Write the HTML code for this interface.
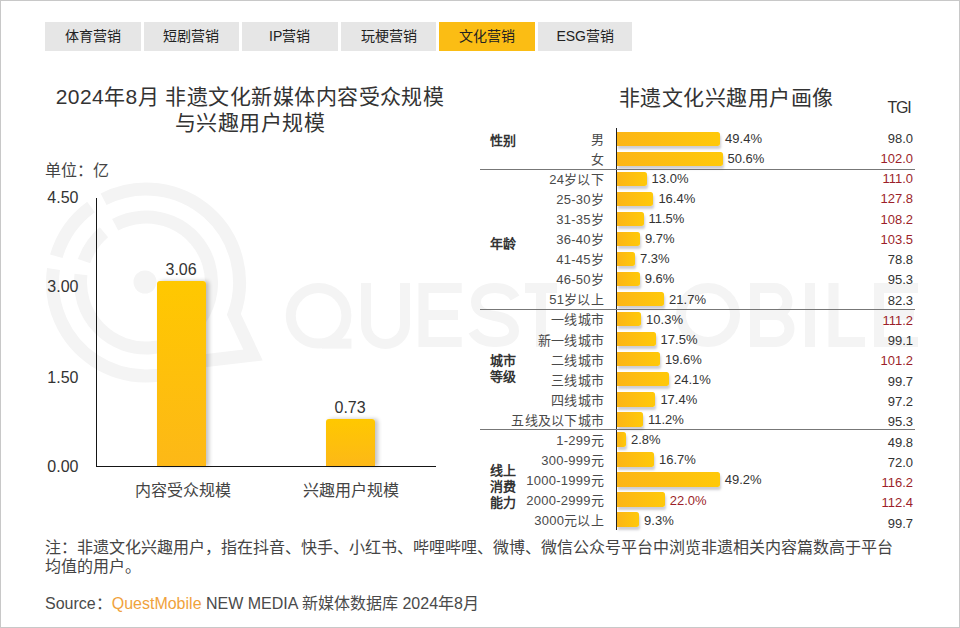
<!DOCTYPE html>
<html lang="zh-CN"><head><meta charset="utf-8">
<style>
*{margin:0;padding:0;box-sizing:border-box}
html,body{width:960px;height:628px;overflow:hidden;background:#fff}
body{position:relative;font-family:"Liberation Sans",sans-serif;color:#333}
.frame{position:absolute;left:0;top:0;width:960px;height:628px;border:1px solid #c8c8c8}
.tab{position:absolute;top:22px;height:28.5px;width:96px;background:#e6e6e6;font-size:14px;font-weight:500;line-height:29px;text-align:center;color:#222}
.tab.on{background:#fbbd14}
.t{position:absolute;white-space:nowrap;line-height:20px}
.ttl{position:absolute;font-size:21px;letter-spacing:0.45px;line-height:26px;text-align:center;color:#333}
.yl{position:absolute;left:38.5px;width:40px;text-align:right;font-size:16px;line-height:16px;color:#333}
.vb{position:absolute;width:49px;background:linear-gradient(#ffc800,#fdb817);border-radius:3px 3px 0 0;box-shadow:3px 0 4px rgba(0,0,0,0.24)}
.cl{position:absolute;right:356px;font-size:13px;letter-spacing:0.25px;line-height:16px;margin-top:1.5px;color:#4a4a4a;white-space:nowrap}
.hb{position:absolute;left:617px;height:14.4px;background:linear-gradient(90deg,#fcb516,#ffc90a);border-radius:0 2.5px 2.5px 0;box-shadow:1px 3px 2.5px rgba(90,90,110,0.3)}
.pl{position:absolute;font-size:13px;line-height:16px;margin-top:2px;margin-left:1px;color:#333;white-space:nowrap}
.tg{position:absolute;right:47px;font-size:13px;line-height:16px;margin-top:1.5px;color:#333;text-align:right}
.red{color:#9c1f2a}
.grp{position:absolute;left:490px;font-size:13px;font-weight:bold;line-height:16px;margin-top:-0.5px;color:#333}
.sep{position:absolute;left:480px;width:435px;height:1px;background:#777}
.wm{position:absolute;color:#f4f4f4}
</style></head><body>
<div class="frame"></div>
<!-- watermark -->
<svg class="wm" style="left:0;top:0" width="960" height="628">
 <g fill="none" stroke="#f4f4f4" stroke-width="13" stroke-linejoin="miter">
  <path d="M103.6 199.2 A93.5 93.5 0 0 1 233.9 314.5 L253 355 L195.5 361.8 A93.5 93.5 0 0 1 53.5 269.0 M56.3 256.3 A93.5 93.5 0 0 1 91.0 206.9"/>
  <path d="M115.2 224.7 A65.5 65.5 0 1 1 81.0 274.5 M84.1 261.2 A65.5 65.5 0 0 1 103.9 232.3"/>
 </g>
 <circle cx="145" cy="282" r="11.5" fill="#f4f4f4"/>
 <g fill="none" stroke="#f4f4f4" stroke-width="10" stroke-linejoin="miter" stroke-miterlimit="10">
  <circle cx="318.6" cy="315.8" r="27.8"/>
  <path d="M322 343.6 H351.5"/>
  <path d="M366 283 V324.5 A19.5 19.5 0 0 0 405 324.5 V283"/>
  <path d="M461.7 288 H423.5 V342 H461.7 M423.5 315 H458"/>
  <path d="M515 298 C511 291 504 288 495 288 C483 288 476 294 476 302 C476 311 484 314 495 316 C508 318 514 323 514 331 C514 338 507 342 495 342 C485 342 477 338 473 331"/>
  <path d="M525 288 H557 M541 288 V347"/>
  <circle cx="708" cy="315" r="27"/>
  <path d="M755 283 V347 M750 288 H774 A13.5 13.5 0 0 1 774 315 H755 M755 315 H776 A13.5 13.5 0 0 1 776 342 H750"/>
  <path d="M810 283 V347"/>
  <path d="M833.5 283 V342 H865"/>
  <path d="M918 288 H879 V342 H918 M879 315 H914"/>
 </g>
</svg>
<div class="tab" style="left:45px;width:95.8px">体育营销</div>
<div class="tab" style="left:143.7px;width:95.4px">短剧营销</div>
<div class="tab" style="left:241.7px;width:96.1px">IP营销</div>
<div class="tab" style="left:341.3px;width:94.7px">玩梗营销</div>
<div class="tab on" style="left:439.1px;width:95.9px">文化营销</div>
<div class="tab" style="left:538px;width:94.4px">ESG营销</div>

<div class="ttl" style="left:0;width:500px;top:84px">2024年8月 非遗文化新媒体内容受众规模<br>与兴趣用户规模</div>
<div class="t" style="left:45px;top:161px;font-size:16px;color:#444">单位：亿</div>
<div class="yl" style="top:190px">4.50</div>
<div class="yl" style="top:279.2px">3.00</div>
<div class="yl" style="top:369.5px">1.50</div>
<div class="yl" style="top:458.5px">0.00</div>
<div style="position:absolute;left:96px;top:198px;width:1.2px;height:269px;background:#151515"></div>
<div style="position:absolute;left:96px;top:466px;width:340px;height:1.2px;background:#151515"></div>
<div class="vb" style="left:157px;top:280.6px;height:185.4px"></div>
<div class="vb" style="left:326px;top:418.5px;height:47.5px"></div>
<div class="t" style="left:165.5px;top:259.5px;font-size:16px">3.06</div>
<div class="t" style="left:334.5px;top:398.3px;font-size:16px">0.73</div>
<div class="t" style="left:135px;top:481px;font-size:16px;color:#444">内容受众规模</div>
<div class="t" style="left:303px;top:481px;font-size:16px;color:#444">兴趣用户规模</div>

<div class="ttl" style="left:619px;top:85px;white-space:nowrap">非遗文化兴趣用户画像</div>
<div class="t" style="left:887.5px;top:98px;font-size:16px;letter-spacing:-1.2px">TGI</div>
<div style="position:absolute;left:616px;top:128px;width:1px;height:402px;background:#222"></div>
<div class="sep" style="top:169px"></div>
<div class="sep" style="top:309px"></div>
<div class="sep" style="top:429px"></div>
<div class="grp" style="top:133px">性别</div>
<div class="grp" style="top:236px">年龄</div>
<div class="grp" style="top:353px">城市<br>等级</div>
<div class="grp" style="top:463px">线上<br>消费<br>能力</div>
<div class="cl" style="top:130.50px">男</div>
<div class="hb" style="top:131.50px;width:103.1px"></div>
<div class="pl" style="top:128.70px;left:724.1px">49.4%</div>
<div class="tg" style="top:129.00px">98.0</div>
<div class="cl" style="top:150.55px">女</div>
<div class="hb" style="top:151.55px;width:105.5px"></div>
<div class="pl" style="top:148.80px;left:726.5px">50.6%</div>
<div class="tg red" style="top:149.27px">102.0</div>
<div class="cl" style="top:170.60px">24岁以下</div>
<div class="hb" style="top:171.60px;width:29.6px"></div>
<div class="pl" style="top:168.90px;left:650.6px">13.0%</div>
<div class="tg red" style="top:169.54px">111.0</div>
<div class="cl" style="top:190.65px">25-30岁</div>
<div class="hb" style="top:191.65px;width:36.4px"></div>
<div class="pl" style="top:189.00px;left:657.4px">16.4%</div>
<div class="tg red" style="top:189.81px">127.8</div>
<div class="cl" style="top:210.70px">31-35岁</div>
<div class="hb" style="top:211.70px;width:26.5px"></div>
<div class="pl" style="top:209.10px;left:647.5px">11.5%</div>
<div class="tg red" style="top:210.08px">108.2</div>
<div class="cl" style="top:230.75px">36-40岁</div>
<div class="hb" style="top:231.75px;width:22.9px"></div>
<div class="pl" style="top:229.20px;left:643.9px">9.7%</div>
<div class="tg red" style="top:230.35px">103.5</div>
<div class="cl" style="top:250.80px">41-45岁</div>
<div class="hb" style="top:251.80px;width:18.0px"></div>
<div class="pl" style="top:249.30px;left:639.0px">7.3%</div>
<div class="tg" style="top:250.62px">78.8</div>
<div class="cl" style="top:270.85px">46-50岁</div>
<div class="hb" style="top:271.85px;width:22.7px"></div>
<div class="pl" style="top:269.40px;left:643.7px">9.6%</div>
<div class="tg" style="top:270.89px">95.3</div>
<div class="cl" style="top:290.90px">51岁以上</div>
<div class="hb" style="top:291.90px;width:47.1px"></div>
<div class="pl" style="top:289.50px;left:668.1px">21.7%</div>
<div class="tg" style="top:291.16px">82.3</div>
<div class="cl" style="top:310.95px">一线城市</div>
<div class="hb" style="top:311.95px;width:24.1px"></div>
<div class="pl" style="top:309.60px;left:645.1px">10.3%</div>
<div class="tg red" style="top:311.43px">111.2</div>
<div class="cl" style="top:331.00px">新一线城市</div>
<div class="hb" style="top:332.00px;width:38.6px"></div>
<div class="pl" style="top:329.70px;left:659.6px">17.5%</div>
<div class="tg" style="top:331.70px">99.1</div>
<div class="cl" style="top:351.05px">二线城市</div>
<div class="hb" style="top:352.05px;width:42.9px"></div>
<div class="pl" style="top:349.80px;left:663.9px">19.6%</div>
<div class="tg red" style="top:351.97px">101.2</div>
<div class="cl" style="top:371.10px">三线城市</div>
<div class="hb" style="top:372.10px;width:52.0px"></div>
<div class="pl" style="top:369.90px;left:673.0px">24.1%</div>
<div class="tg" style="top:372.24px">99.7</div>
<div class="cl" style="top:391.15px">四线城市</div>
<div class="hb" style="top:392.15px;width:38.4px"></div>
<div class="pl" style="top:390.00px;left:659.4px">17.4%</div>
<div class="tg" style="top:392.51px">97.2</div>
<div class="cl" style="top:411.20px">五线及以下城市</div>
<div class="hb" style="top:412.20px;width:25.9px"></div>
<div class="pl" style="top:410.10px;left:646.9px">11.2%</div>
<div class="tg" style="top:412.78px">95.3</div>
<div class="cl" style="top:431.25px">1-299元</div>
<div class="hb" style="top:432.25px;width:9.0px"></div>
<div class="pl" style="top:430.20px;left:630.0px">2.8%</div>
<div class="tg" style="top:433.05px">49.8</div>
<div class="cl" style="top:451.30px">300-999元</div>
<div class="hb" style="top:452.30px;width:37.0px"></div>
<div class="pl" style="top:450.30px;left:658.0px">16.7%</div>
<div class="tg" style="top:453.32px">72.0</div>
<div class="cl" style="top:471.35px">1000-1999元</div>
<div class="hb" style="top:472.35px;width:102.7px"></div>
<div class="pl" style="top:470.40px;left:723.7px">49.2%</div>
<div class="tg red" style="top:473.59px">116.2</div>
<div class="cl" style="top:491.40px">2000-2999元</div>
<div class="hb" style="top:492.40px;width:47.7px"></div>
<div class="pl red" style="top:490.50px;left:668.7px">22.0%</div>
<div class="tg red" style="top:493.86px">112.4</div>
<div class="cl" style="top:511.45px">3000元以上</div>
<div class="hb" style="top:512.45px;width:22.1px"></div>
<div class="pl" style="top:510.60px;left:643.1px">9.3%</div>
<div class="tg" style="top:514.13px">99.7</div>

<div class="t" style="left:45px;top:538px;font-size:16px;line-height:19px;white-space:normal;width:900px;color:#444">注：非遗文化兴趣用户，指在抖音、快手、小红书、哔哩哔哩、微博、微信公众号平台中浏览非遗相关内容篇数高于平台<br>均值的用户。</div>
<div class="t" style="left:45px;top:593.5px;font-size:16px;color:#4a4a4a">Source：<span style="color:#f0a23c">QuestMobile</span> NEW MEDIA 新媒体数据库 2024年8月</div>
</body></html>
